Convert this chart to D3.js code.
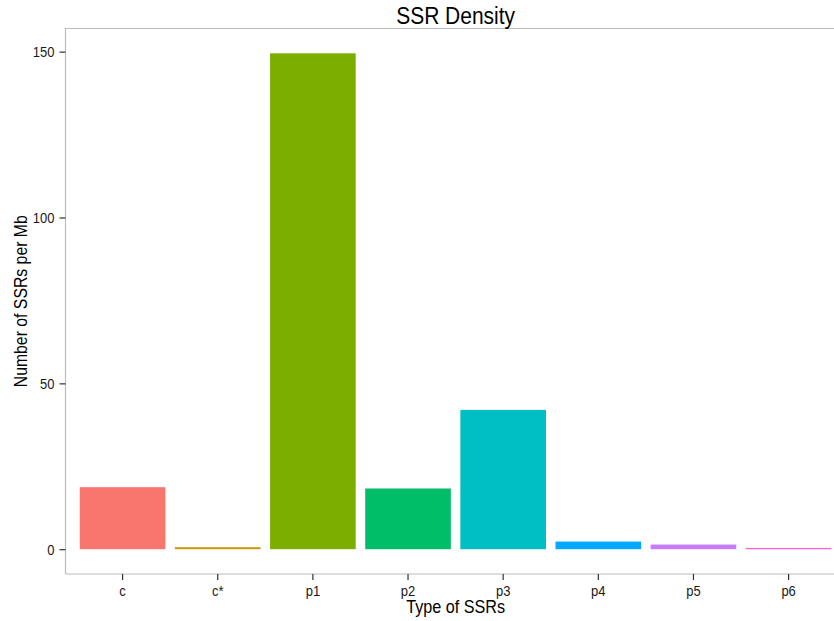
<!DOCTYPE html>
<html>
<head>
<meta charset="utf-8">
<script src="https://cdn.jsdelivr.net/npm/d3@7"></script>
<style>
  html, body { margin: 0; padding: 0; background: #fff; }
  svg { display: block; }
  text { font-family: "Liberation Sans", Arial, Helvetica, sans-serif; }
</style>
</head>
<body>
<script>
// ---- data ----
const categories = ["c", "c*", "p1", "p2", "p3", "p4", "p5", "p6"];
const values = [18.7, 0.6, 149.5, 18.3, 42.0, 2.3, 1.4, 0.4];
const colors = ["#F8766D", "#CD9600", "#7CAE00", "#00BE67", "#00BFC4", "#00A9FF", "#C77CFF", "#FF61CC"];
const yTicks = [0, 50, 100, 150];
const title = "SSR Density";
const xTitle = "Type of SSRs";
const yTitle = "Number of SSRs per Mb";

// ---- layout ----
const W = 834, H = 621;
const panel = { left: 65.5, right: 845.7, top: 28.5, bottom: 574 };
const stretch = 1.15;

const svg = d3.select("body").append("svg").attr("width", W).attr("height", H);

const x = d3.scaleBand().domain(categories)
  .range([panel.left, panel.right]).paddingInner(0.1).paddingOuter(0.15);

const maxV = d3.max(values);
const pad = maxV * 0.05;
const y = d3.scaleLinear().domain([-pad, maxV + pad]).range([panel.bottom, panel.top]);

// bars
svg.append("g").selectAll("rect").data(categories).join("rect")
  .attr("x", d => x(d))
  .attr("width", x.bandwidth())
  .attr("y", (d, i) => y(values[i]))
  .attr("height", (d, i) => y(0) - y(values[i]))
  .attr("fill", (d, i) => colors[i]);

// panel border (top, left, bottom)
const border = svg.append("g").attr("stroke", "#bcbcbc").attr("stroke-width", 1.2).attr("fill", "none");
border.append("path").attr("d", `M${panel.right},${panel.top}H${panel.left}V${panel.bottom}H${panel.right}`);

// y axis
const yAxis = svg.append("g").attr("transform", `translate(${panel.left},0)`)
  .call(d3.axisLeft(y).tickValues(yTicks).tickSize(6).tickPadding(5).tickFormat(d3.format("d")));
yAxis.select(".domain").remove();
yAxis.selectAll(".tick line").attr("stroke", "#333").attr("stroke-width", 1.2);
yAxis.selectAll(".tick text")
  .attr("fill", "#1a1a1a").attr("font-size", 13).attr("dy", null)
  .attr("dominant-baseline", "central")
  .attr("transform", `scale(1,${stretch})`)
  .attr("y", 0);
// apply scale about tick position: adjust via wrapping
yAxis.selectAll(".tick text").each(function() {
  const t = d3.select(this);
  const xx = +t.attr("x");
  t.attr("x", null).attr("transform", `translate(${xx},0) scale(1,${stretch})`);
});

// x axis
const xAxis = svg.append("g").attr("transform", `translate(0,${panel.bottom})`)
  .call(d3.axisBottom(x).tickSize(6).tickPadding(0));
xAxis.select(".domain").remove();
xAxis.selectAll(".tick line").attr("stroke", "#333").attr("stroke-width", 1.2);
xAxis.selectAll(".tick text")
  .attr("fill", "#1a1a1a").attr("font-size", 13).attr("dy", null).attr("y", null)
  .attr("transform", `translate(0,22) scale(1,${stretch})`);

// titles
const cx = (panel.left + panel.right) / 2;
svg.append("text").text(title)
  .attr("text-anchor", "middle").attr("font-size", 21).attr("fill", "#000")
  .attr("transform", `translate(${cx},24) scale(1,${stretch})`);

svg.append("text").text(xTitle)
  .attr("text-anchor", "middle").attr("font-size", 16.2).attr("fill", "#000")
  .attr("transform", `translate(${cx},613) scale(1,${stretch})`);

svg.append("text").text(yTitle)
  .attr("text-anchor", "middle").attr("font-size", 15.8).attr("fill", "#000")
  .attr("transform", `translate(27.3,${(panel.top + panel.bottom) / 2}) rotate(-90) scale(1,${stretch})`);
</script>
</body>
</html>
